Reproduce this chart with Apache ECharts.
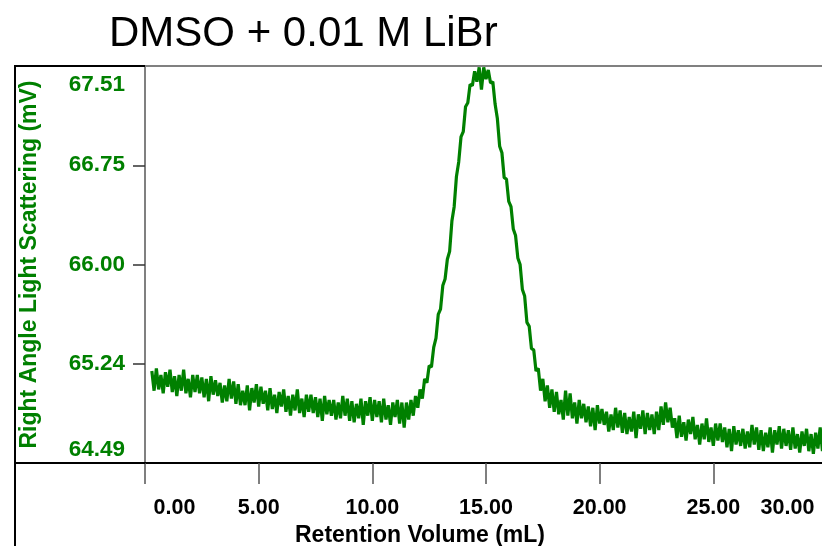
<!DOCTYPE html>
<html><head><meta charset="utf-8">
<script src="https://cdn.jsdelivr.net/npm/echarts@6/dist/echarts.min.js"></script>
<style>html,body{margin:0;padding:0;background:#fff}#c{width:822px;height:546px}</style>
</head><body><div id="c"></div>
<script>
const chartTitle = 'DMSO + 0.01 M LiBr';
const xAxisName = 'Retention Volume (mL)';
const yAxisName = 'Right Angle Light Scattering (mV)';
const xTickValues = [0, 5, 10, 15, 20, 25, 30];
const xTickLabels = ['0.00', '5.00', '10.00', '15.00', '20.00', '25.00', '30.00'];
const yTickValues = [64.49, 65.245, 66.00, 66.755, 67.51];
const yTickLabels = ['64.49', '65.24', '66.00', '66.75', '67.51'];
// sampling grid of the detector trace (mL)
const retentionStart = 0.3;
const retentionStep = 0.1;
// right angle light scattering signal (mV), one value per 0.1 mL
const scatteringMV = [
  65.19, 65.04, 65.21, 65.05, 65.16, 65.02, 65.18, 65.07, 65.20, 65.03,
  65.15, 65.00, 65.16, 65.04, 65.20, 65.02, 65.13, 64.99, 65.16, 65.03,
  65.16, 65.02, 65.14, 64.99, 65.13, 64.96, 65.15, 65.01, 65.12, 65.00,
  65.10, 64.95, 65.08, 64.96, 65.13, 64.98, 65.11, 64.94, 65.09, 64.93,
  65.04, 64.93, 65.08, 64.89, 65.06, 64.95, 65.09, 64.92, 65.07, 64.94,
  65.04, 64.89, 65.06, 64.90, 65.01, 64.87, 65.03, 64.92, 65.05, 64.88,
  65.00, 64.85, 65.01, 64.89, 65.05, 64.87, 64.98, 64.84, 65.01, 64.88,
  65.01, 64.87, 64.99, 64.84, 64.98, 64.81, 65.00, 64.86, 64.97, 64.85,
  64.97, 64.82, 64.95, 64.83, 65.00, 64.85, 64.98, 64.81, 64.96, 64.80,
  64.94, 64.83, 64.98, 64.78, 64.96, 64.85, 64.99, 64.81, 64.97, 64.84,
  64.96, 64.80, 64.98, 64.82, 64.93, 64.78, 64.95, 64.84, 64.97, 64.79,
  64.95, 64.76, 64.95, 64.82, 64.97, 64.85, 65.00, 64.91, 65.05, 64.98,
  65.13, 65.10, 65.23, 65.22, 65.37, 65.44, 65.62, 65.66, 65.84, 65.89,
  66.04, 66.10, 66.33, 66.44, 66.67, 66.78, 66.97, 67.01, 67.20, 67.23,
  67.37, 67.36, 67.47, 67.39, 67.50, 67.33, 67.50, 67.41, 67.48, 67.38,
  67.39, 67.22, 67.11, 66.90, 66.85, 66.66, 66.65, 66.48, 66.44, 66.27,
  66.22, 66.05, 66.00, 65.81, 65.76, 65.56, 65.53, 65.36, 65.35, 65.19,
  65.21, 65.04, 65.13, 64.96, 65.08, 64.91, 65.05, 64.88, 65.03, 64.86,
  64.97, 64.82, 65.04, 64.85, 65.02, 64.83, 64.95, 64.79, 64.97, 64.83,
  64.94, 64.80, 64.92, 64.77, 64.91, 64.74, 64.93, 64.79, 64.90, 64.78,
  64.88, 64.73, 64.86, 64.74, 64.91, 64.76, 64.89, 64.72, 64.87, 64.71,
  64.84, 64.73, 64.88, 64.68, 64.86, 64.75, 64.89, 64.71, 64.87, 64.74,
  64.86, 64.71, 64.88, 64.74, 64.92, 64.78, 64.95, 64.80, 64.91, 64.76,
  64.83, 64.68, 64.85, 64.69, 64.80, 64.66, 64.82, 64.71, 64.84, 64.67,
  64.78, 64.63, 64.79, 64.67, 64.83, 64.65, 64.76, 64.62, 64.79, 64.66,
  64.79, 64.65, 64.76, 64.61, 64.75, 64.58, 64.77, 64.63, 64.74, 64.62,
  64.75, 64.60, 64.73, 64.61, 64.78, 64.63, 64.76, 64.59, 64.74, 64.58,
  64.72, 64.61, 64.76, 64.57, 64.74, 64.63, 64.77, 64.60, 64.75, 64.62,
  64.74, 64.59, 64.76, 64.60, 64.71, 64.57, 64.73, 64.62, 64.75, 64.58,
  64.71, 64.56, 64.72, 64.60, 64.76, 64.58, 64.69, 64.55, 64.72, 64.59
];

const FONT = '"Liberation Sans", Arial, sans-serif';
const GREEN = '#008000';
const seriesData = scatteringMV.map((v, i) => [+(retentionStart + i * retentionStep).toFixed(2), v]);
const findIdx = (arr, v) => arr.findIndex(t => Math.abs(t - v) < 1e-6);

const chart = echarts.init(document.getElementById('c'), null, { renderer: 'canvas' });
const xLab = { fontFamily: FONT, fontSize: 21.5, fontWeight: 'bold', color: '#000' };
const yLab = { fontFamily: FONT, fontSize: 22.5, fontWeight: 'bold', color: GREEN };
chart.setOption({
  animation: false,
  backgroundColor: '#fff',
  title: {
    text: chartTitle, left: 104, top: 8,
    textStyle: { fontFamily: FONT, fontSize: 42, fontWeight: 'normal', color: '#000' }
  },
  grid: {
    left: 145, right: -5, top: 66, bottom: 83, show: true, borderColor: '#808080', borderWidth: 2,
    containLabel: false, outerBoundsMode: 'none'
  },
  xAxis: {
    type: 'value', min: 0, max: 30,
    axisLine: { show: true, onZero: false, lineStyle: { color: '#000', width: 2 } },
    axisTick: { show: true, customValues: xTickValues, length: 21, lineStyle: { color: '#555', width: 1.5 } },
    splitLine: { show: false },
    axisLabel: Object.assign({
      customValues: xTickValues, margin: 34.5,
      formatter: v => {
        const i = findIdx(xTickValues, v);
        const s = xTickLabels[i];
        if (i === 0) return '{first|' + s + '}';
        if (i === xTickValues.length - 1) return '{last|' + s + '}';
        return s;
      },
      rich: {
        first: Object.assign({ padding: [0, 0, 0, 59] }, xLab),
        last: Object.assign({ padding: [0, 79, 0, 0] }, xLab)
      }
    }, xLab),
    name: xAxisName, nameLocation: 'middle', nameGap: 60,
    nameTextStyle: { fontFamily: FONT, fontSize: 23, fontWeight: 'bold', color: '#000', padding: [0, 132, 0, 0] }
  },
  yAxis: {
    type: 'value', min: 64.49, max: 67.51,
    axisLine: { show: false },
    axisTick: { show: true, customValues: yTickValues, length: 12, lineStyle: { color: '#333', width: 1.5 } },
    splitLine: { show: false },
    axisLabel: Object.assign({
      customValues: yTickValues, margin: 20,
      formatter: v => {
        const i = findIdx(yTickValues, v);
        const s = yTickLabels[i];
        if (i === 0) return '{bot|' + s + '}';
        if (i === yTickValues.length - 1) return '{top|' + s + '}';
        return s;
      },
      rich: {
        top: Object.assign({ padding: [38, 0, 0, 0] }, yLab),
        bot: Object.assign({ padding: [0, 0, 26, 0] }, yLab)
      }
    }, yLab),
    name: yAxisName, nameLocation: 'middle', nameGap: 104,
    nameTextStyle: { fontFamily: FONT, fontSize: 23, fontWeight: 'bold', color: GREEN }
  },
  graphic: [
    { type: 'line', silent: true, z: 100, shape: { x1: 15, y1: 65, x2: 15, y2: 546 }, style: { stroke: '#000', lineWidth: 2 } },
    { type: 'line', silent: true, z: 100, shape: { x1: 14, y1: 66, x2: 145, y2: 66 }, style: { stroke: '#000', lineWidth: 2 } },
    { type: 'line', silent: true, z: 100, shape: { x1: 14, y1: 463, x2: 145, y2: 463 }, style: { stroke: '#000', lineWidth: 2 } }
  ],
  series: [{
    type: 'line', data: seriesData, showSymbol: false, symbol: 'none',
    lineStyle: { color: GREEN, width: 3.2 }, itemStyle: { color: GREEN },
    sampling: 'none', clip: true
  }]
});
</script></body></html>
